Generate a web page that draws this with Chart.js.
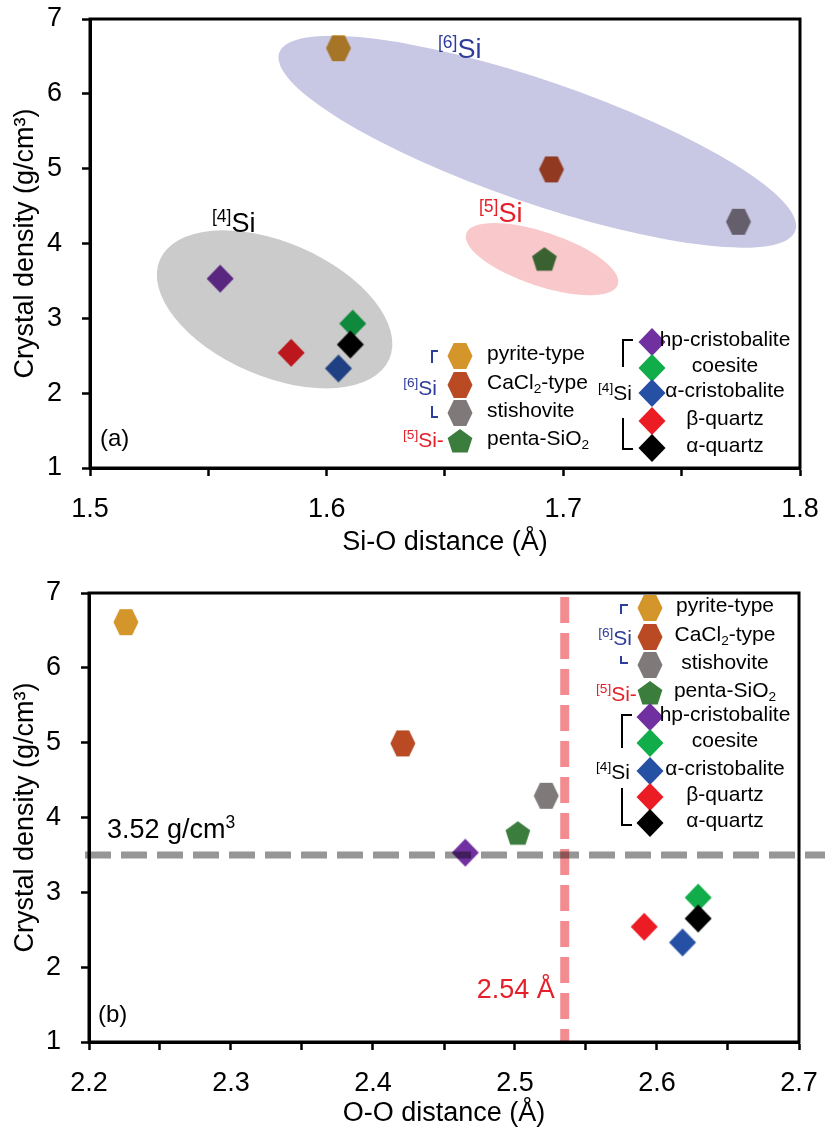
<!DOCTYPE html>
<html>
<head>
<meta charset="utf-8">
<script src="https://cdn.jsdelivr.net/npm/chart.js@4.4.1/dist/chart.umd.min.js"></script>
<style>
  body { margin: 0; background: #fff; }
  #wrap { position: relative; width: 825px; height: 1132px; }
  canvas { position: absolute; left: 0; }
  #chartA { top: 0; }
  #chartB { top: 570px; }
</style>
</head>
<body>
<div id="wrap">
  <canvas id="chartA" width="825" height="560"></canvas>
  <canvas id="chartB" width="825" height="562"></canvas>
</div>
<script>
const FONT = '"Liberation Sans", Arial, Helvetica, sans-serif';

// ––– Dados –––
const materials = ['pyrite-type', 'CaCl2-type', 'stishovite', 'penta-SiO2', 'hp-cristobalite', 'coesite', 'α-cristobalite', 'β-quartz', 'α-quartz'];
const legendText = ['pyrite-type', 'CaCl_{2}-type', 'stishovite', 'penta-SiO_{2}', 'hp-cristobalite', 'coesite', 'α-cristobalite', 'β-quartz', 'α-quartz'];
const markerShape = ['hex', 'hex', 'hex', 'pent', 'diamond', 'diamond', 'diamond', 'diamond', 'diamond'];
const markerColor = ['#d4952b', '#b94a24', '#807979', '#3b7d3c', '#7030a0', '#12ad4b', '#2650a4', '#ec1c24', '#000000'];

const siODistance = [1.605, 1.695, 1.774, 1.692, 1.555, 1.611, 1.605, 1.585, 1.610];
const ooDistance = [2.226, 2.421, 2.522, 2.502, 2.465, 2.629, 2.618, 2.591, 2.629];
const crystalDensity = [6.61, 4.99, 4.29, 3.79, 3.53, 2.93, 2.33, 2.54, 2.65];

const siORange = [1.5, 1.8];
const ooRange = [2.2, 2.7];
const densityRange = [1, 7];

const densityRef = 3.5;   // linha tracejada cinza (3.52 g/cm3)
const ooRef = 2.535;      // linha tracejada vermelha (2.54 Å)

// elipses de agrupamento (centro em unidades dos eixos)
const groupsA = [
  { x: 1.689, y: 5.36, rx: 273, ry: 61, angle: 19, color: '#c9c8e4' },
  { x: 1.578, y: 3.12, rx: 125, ry: 67, angle: 23.4, color: '#cbcbcb' },
  { x: 1.691, y: 3.79, rx: 80, ry: 27, angle: 18.6, color: '#f8c8ca' }
];

// ––– Marcadores –––
function makeMarker(shape, color) {
  const c = document.createElement('canvas');
  c.width = 30; c.height = 30;
  const g = c.getContext('2d');
  g.translate(15, 15);
  g.beginPath();
  if (shape === 'hex') {
    const w = 25, h = 26;
    g.moveTo(-w / 2, 0); g.lineTo(-w / 4, -h / 2); g.lineTo(w / 4, -h / 2);
    g.lineTo(w / 2, 0); g.lineTo(w / 4, h / 2); g.lineTo(-w / 4, h / 2);
  } else if (shape === 'pent') {
    const r = 13;
    for (let k = 0; k < 5; k++) {
      const a = -Math.PI / 2 + k * 2 * Math.PI / 5;
      g.lineTo(r * Math.cos(a), r * Math.sin(a) + 1);
    }
  } else {
    const w = 27, h = 28;
    g.moveTo(0, -h / 2); g.lineTo(w / 2, 0); g.lineTo(0, h / 2); g.lineTo(-w / 2, 0);
  }
  g.closePath();
  g.fillStyle = color;
  g.fill();
  return c;
}
const markerImg = materials.map((m, i) => makeMarker(markerShape[i], markerColor[i]));

// ––– Texto com sobrescrito/subscrito –––
function drawRich(ctx, text, x, y, size, color, align) {
  const parts = [];
  const re = /(\^\{[^}]*\}|_\{[^}]*\})/g;
  let last = 0, m;
  while ((m = re.exec(text))) {
    if (m.index > last) parts.push({ t: text.slice(last, m.index), k: 0 });
    parts.push({ t: m[0].slice(2, -1), k: m[0][0] === '^' ? 1 : -1 });
    last = re.lastIndex;
  }
  if (last < text.length) parts.push({ t: text.slice(last), k: 0 });
  ctx.save();
  ctx.fillStyle = color;
  ctx.textBaseline = 'alphabetic';
  ctx.textAlign = 'left';
  let total = 0;
  parts.forEach(p => {
    p.size = p.k ? size * 0.65 : size;
    ctx.font = p.size + 'px ' + FONT;
    p.w = ctx.measureText(p.t).width;
    total += p.w;
  });
  let cx = align === 'center' ? x - total / 2 : align === 'right' ? x - total : x;
  const base = y + size * 0.358;
  parts.forEach(p => {
    ctx.font = p.size + 'px ' + FONT;
    const dy = p.k === 1 ? -size * 0.36 : p.k === -1 ? size * 0.2 : 0;
    ctx.fillText(p.t, cx, base + dy);
    cx += p.w;
  });
  ctx.restore();
}

function drawPath(ctx, pts, color) {
  ctx.save();
  ctx.strokeStyle = color;
  ctx.lineWidth = 2;
  ctx.beginPath();
  pts.forEach((p, i) => i ? ctx.lineTo(p[0], p[1]) : ctx.moveTo(p[0], p[1]));
  ctx.stroke();
  ctx.restore();
}

function drawEllipse(chart, e) {
  const ctx = chart.ctx;
  const cx = chart.scales.x.getPixelForValue(e.x);
  const cy = chart.scales.y.getPixelForValue(e.y);
  ctx.save();
  ctx.globalCompositeOperation = 'multiply';
  ctx.fillStyle = e.color;
  ctx.beginPath();
  ctx.ellipse(cx, cy, e.rx, e.ry, e.angle * Math.PI / 180, 0, 2 * Math.PI);
  ctx.fill();
  ctx.restore();
}

function drawFrame(chart) {
  const { ctx, chartArea: a } = chart;
  ctx.save();
  ctx.strokeStyle = '#000';
  ctx.lineWidth = 3;
  ctx.strokeRect(a.left, a.top, a.right - a.left, a.bottom - a.top);
  ctx.restore();
}

function legendItem(ctx, i, mx, my, tx, align) {
  const img = markerImg[i];
  ctx.drawImage(img, mx - img.width / 2, my - img.height / 2);
  drawRich(ctx, legendText[i], tx, my - 4, 21, '#000', align);
}

const BLUE = '#2e3d9b';
const RED = '#e5202a';

// ––– Gráfico (a) –––
const panelA = {
  id: 'panelA',
  afterDatasetsDraw(chart) {
    const ctx = chart.ctx;
    groupsA.forEach(g => drawEllipse(chart, g));
    drawRich(ctx, '^{[6]}Si', 438, 48, 27, BLUE, 'left');
    drawRich(ctx, '^{[4]}Si', 212, 222, 27, '#000', 'left');
    drawRich(ctx, '^{[5]}Si', 479, 212, 27, RED, 'left');
  },
  afterDraw(chart) {
    const ctx = chart.ctx;
    drawFrame(chart);
    drawRich(ctx, '(a)', 100, 437, 24, '#000', 'left');
    // legenda esquerda
    [356, 385, 413, 441].forEach((y, k) => legendItem(ctx, k, 460, y, 487, 'left'));
    // legenda direita
    [342, 368, 393, 421, 448].forEach((y, k) => legendItem(ctx, k + 4, 652, y, 725, 'center'));
    drawRich(ctx, '^{[6]}Si', 437, 387, 21, BLUE, 'right');
    drawRich(ctx, '^{[5]}Si-', 403, 439, 21, RED, 'left');
    drawRich(ctx, '^{[4]}Si', 598, 392, 21, '#000', 'left');
    drawPath(ctx, [[438, 351], [432, 351], [432, 363]], BLUE);
    drawPath(ctx, [[432, 406], [432, 417], [438, 417]], BLUE);
    drawPath(ctx, [[633, 340], [623, 340], [623, 367]], '#000');
    drawPath(ctx, [[623, 418], [623, 449], [633, 449]], '#000');
  }
};

// ––– Gráfico (b) –––
const panelB = {
  id: 'panelB',
  afterDatasetsDraw(chart) {
    const { ctx, chartArea: a } = chart;
    const yRef = chart.scales.y.getPixelForValue(densityRef);
    const xRef = chart.scales.x.getPixelForValue(ooRef);
    ctx.save();
    ctx.globalCompositeOperation = 'multiply';
    ctx.setLineDash([26, 10]);
    ctx.lineWidth = 7;
    ctx.strokeStyle = '#969696';
    ctx.beginPath();
    ctx.moveTo(a.left - 4, yRef);
    ctx.lineTo(825, yRef);
    ctx.stroke();
    ctx.lineWidth = 9;
    ctx.strokeStyle = '#f28c91';
    ctx.beginPath();
    ctx.moveTo(xRef, a.top + 4);
    ctx.lineTo(xRef, a.bottom + 2);
    ctx.stroke();
    ctx.restore();
    drawRich(ctx, '3.52 g/cm^{3}', 107, yRef - 27, 27, '#000', 'left');
    drawRich(ctx, '2.54 Å', xRef - 10, 418, 27, RED, 'right');
  },
  afterDraw(chart) {
    const ctx = chart.ctx;
    drawFrame(chart);
    drawRich(ctx, '(b)', 98, 443, 24, '#000', 'left');
    [38, 67, 95, 123, 147, 173, 201, 227, 253].forEach((y, k) => legendItem(ctx, k, 650, y, 725, 'center'));
    drawRich(ctx, '^{[6]}Si', 632, 67, 21, BLUE, 'right');
    drawRich(ctx, '^{[5]}Si-', 596, 123, 21, RED, 'left');
    drawRich(ctx, '^{[4]}Si', 596, 201, 21, '#000', 'left');
    drawPath(ctx, [[628, 35], [621, 35], [621, 44]], BLUE);
    drawPath(ctx, [[621, 86], [621, 93], [628, 93]], BLUE);
    drawPath(ctx, [[632, 145], [622, 145], [622, 178]], '#000');
    drawPath(ctx, [[622, 218], [622, 255], [632, 255]], '#000');
  }
};

function noPad(s) {
  s.paddingTop = 0;
  s.paddingBottom = 0;
  s.paddingLeft = 0;
  s.paddingRight = 0;
}

function makeChart(id, xValues, xRange, xTitle, dims, plugin) {
  const points = xValues.map((x, i) => ({ x: x, y: crystalDensity[i] }));
  return new Chart(document.getElementById(id), {
    type: 'scatter',
    data: {
      datasets: [{
        label: 'Crystal density',
        data: points,
        pointStyle: markerImg,
        pointRadius: 12,
        pointHoverRadius: 12
      }]
    },
    options: {
      responsive: false,
      animation: false,
      events: [],
      layout: { padding: { top: dims.top, right: dims.right, left: 0, bottom: 0 } },
      plugins: { legend: { display: false }, tooltip: { enabled: false } },
      scales: {
        x: {
          type: 'linear',
          min: xRange[0],
          max: xRange[1],
          afterFit: s => { s.height = dims.xHeight; noPad(s); },
          ticks: {
            stepSize: 0.05,
            padding: 17,
            color: '#000',
            font: { family: FONT, size: 27 },
            maxRotation: 0,
            autoSkip: false,
            callback: v => {
              const r = Math.round(v * 100);
              return r % 10 === 0 ? (r / 100).toFixed(1) : '';
            }
          },
          grid: { drawOnChartArea: false, drawTicks: true, tickLength: 8, tickWidth: 2.5, tickColor: '#000', color: '#000' },
          border: { display: true, color: '#000', width: 3 },
          title: { display: true, text: xTitle, color: '#000', font: { family: FONT, size: 27 }, padding: { top: 0, bottom: dims.titlePad } }
        },
        y: {
          type: 'linear',
          min: densityRange[0],
          max: densityRange[1],
          afterFit: s => { s.width = dims.left; noPad(s); },
          ticks: { stepSize: 1, padding: 20, color: '#000', font: { family: FONT, size: 27 } },
          grid: { drawOnChartArea: false, drawTicks: true, tickLength: 8, tickWidth: 2.5, tickColor: '#000', color: '#000' },
          border: { display: true, color: '#000', width: 3 },
          title: { display: true, text: 'Crystal density (g/cm³)', color: '#000', font: { family: FONT, size: 27 }, padding: { top: 9, bottom: 0 } }
        }
      }
    },
    plugins: [plugin]
  });
}

makeChart('chartA', siODistance, siORange, 'Si-O distance (Å)',
  { top: 19, right: 25, left: 90, xHeight: 560 - 468, titlePad: 1 }, panelA);
makeChart('chartB', ooDistance, ooRange, 'O-O distance (Å)',
  { top: 23, right: 26, left: 89, xHeight: 562 - 472, titlePad: 2 }, panelB);
</script>
</body>
</html>
